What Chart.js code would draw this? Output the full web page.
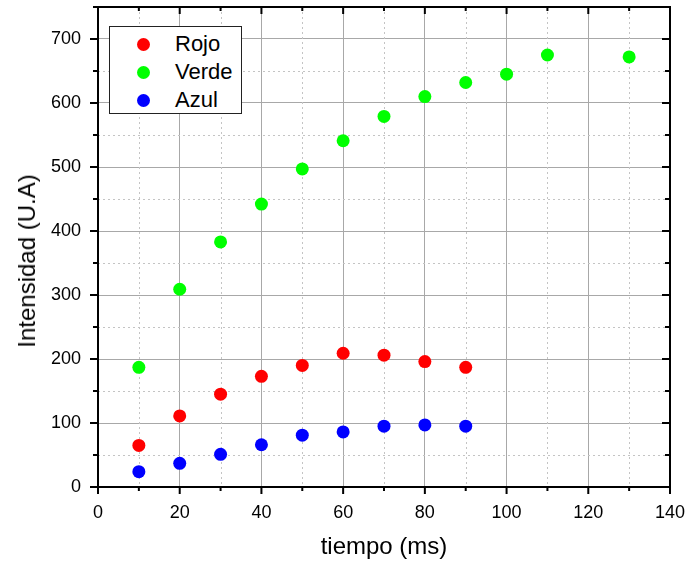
<!DOCTYPE html>
<html>
<head>
<meta charset="utf-8">
<script src="https://cdn.jsdelivr.net/npm/chart.js@4.4.1/dist/chart.umd.min.js"></script>
<style>
  html, body { margin: 0; padding: 0; background: #fff; }
  #wrap { position: relative; width: 688px; height: 562px; font-family: "Liberation Sans", Arial, sans-serif; }
  #legend { position: absolute; left: 109px; top: 26px; width: 131px; height: 86px;
            border: 1.5px solid #222; background: #fff; }
  .row { position: absolute; left: 0; height: 28px; line-height: 28px; font-size: 22px; color: #000; }
  .dot { position: absolute; left: 27px; top: 8px; width: 13px; height: 13px; border-radius: 50%; }
  .lbl { position: absolute; left: 65px; top: 0; white-space: nowrap; }
  #ytitle { position: absolute; left: 27px; top: 261px; font-size: 24px; color: #000; white-space: nowrap;
            transform: translate(-50%, -50%) rotate(-90deg); }
</style>
</head>
<body>
<div id="wrap">
  <canvas id="chart" width="688" height="562"></canvas>
  <div id="legend"></div>
  <div id="ytitle">Intensidad (U.A)</div>
</div>
<script>
// data
const tiempo = [10, 20, 30, 40, 50, 60, 70, 80, 90];
const tiempoVerde = [10, 20, 30, 40, 50, 60, 70, 80, 90, 100, 110, 130];
const rojo = [65, 111, 145, 173, 190, 209, 206, 196, 187];
const verde = [187, 309, 383, 442, 497, 541, 579, 610, 632, 645, 675, 672];
const azul = [24, 37, 51, 66, 81, 86, 95, 97, 95];
const xTicks = [0, 20, 40, 60, 80, 100, 120, 140];
const yTicks = [0, 100, 200, 300, 400, 500, 600, 700];

const series = [
    { label: 'Rojo', x: tiempo, y: rojo, color: '#ff0000' },
    { label: 'Verde', x: tiempoVerde, y: verde, color: '#00ff00' },
    { label: 'Azul', x: tiempo, y: azul, color: '#0000ff' }
];

const font = '"Liberation Sans", Arial, sans-serif';

// dotted minor grid, tick marks and frame
const framePlugin = {
    id: 'frame',
    beforeDatasetsDraw(chart) {
        const ctx = chart.ctx;
        const a = chart.chartArea;
        const xs = chart.scales.x, ys = chart.scales.y;
        ctx.save();
        ctx.strokeStyle = '#c4c4c4';
        ctx.lineWidth = 1;
        ctx.setLineDash([2, 3]);
        for (let v = 10; v < 140; v += 20) {
            const px = Math.round(xs.getPixelForValue(v)) + 0.5;
            ctx.beginPath(); ctx.moveTo(px, a.top); ctx.lineTo(px, a.bottom); ctx.stroke();
        }
        for (let v = 50; v < 750; v += 100) {
            const py = Math.round(ys.getPixelForValue(v)) + 0.5;
            ctx.beginPath(); ctx.moveTo(a.left, py); ctx.lineTo(a.right, py); ctx.stroke();
        }
        ctx.restore();
    },
    afterDatasetsDraw(chart) {
        const ctx = chart.ctx;
        const a = chart.chartArea;
        const xs = chart.scales.x, ys = chart.scales.y;
        ctx.save();
        ctx.strokeStyle = '#000';
        ctx.lineWidth = 2;
        ctx.setLineDash([]);
        ctx.strokeRect(a.left, a.top, a.right - a.left, a.bottom - a.top);
        for (let v = 0; v <= 140; v += 10) {
            const px = xs.getPixelForValue(v);
            const len = v % 20 === 0 ? 7 : 4;
            ctx.beginPath();
            ctx.moveTo(px, a.bottom); ctx.lineTo(px, a.bottom + len);
            ctx.moveTo(px, a.top); ctx.lineTo(px, a.top + len);
            ctx.stroke();
        }
        for (let v = 0; v <= 750; v += 50) {
            const py = ys.getPixelForValue(v);
            const len = v % 100 === 0 ? 8 : 5;
            ctx.beginPath();
            ctx.moveTo(a.left, py); ctx.lineTo(a.left - len, py);
            ctx.moveTo(a.right, py); ctx.lineTo(a.right - len, py);
            ctx.stroke();
        }
        ctx.restore();
    }
};

function noPad(scale) {
    scale.paddingTop = 0;
    scale.paddingBottom = 0;
    scale.paddingLeft = 0;
    scale.paddingRight = 0;
}

new Chart(document.getElementById('chart'), {
    type: 'scatter',
    data: {
        datasets: series.map(s => ({
            label: s.label,
            data: s.x.map((x, i) => ({ x: x, y: s.y[i] })),
            backgroundColor: s.color,
            borderWidth: 0,
            pointRadius: 6.5,
            pointHoverRadius: 6.5
        }))
    },
    options: {
        responsive: false,
        animation: false,
        layout: { padding: { left: 0, top: 7, right: 18, bottom: 0 } },
        plugins: { legend: { display: false }, tooltip: { enabled: false } },
        scales: {
            x: {
                type: 'linear', min: 0, max: 140,
                afterFit(scale) { scale.height = 75; noPad(scale); },
                afterBuildTicks(scale) { scale.ticks = xTicks.map(v => ({ value: v })); },
                ticks: { color: '#000', padding: 15, font: { family: font, size: 18 } },
                grid: { color: '#a8a8a8', lineWidth: 1, drawTicks: false },
                border: { display: false },
                title: { display: true, text: 'tiempo (ms)', color: '#000', padding: { top: 0, bottom: 0 },
                         font: { family: font, size: 24 } }
            },
            y: {
                type: 'linear', min: 0, max: 750,
                afterFit(scale) { scale.width = 98; noPad(scale); },
                afterBuildTicks(scale) { scale.ticks = yTicks.map(v => ({ value: v })); },
                ticks: { color: '#000', padding: 17, font: { family: font, size: 18 } },
                grid: { color: '#a8a8a8', lineWidth: 1, drawTicks: false },
                border: { display: false },
                title: { display: false }
            }
        }
    },
    plugins: [framePlugin]
});

// legend as real text
const legend = document.getElementById('legend');
series.forEach((s, i) => {
    const row = document.createElement('div');
    row.className = 'row';
    row.style.top = (3 + i * 28) + 'px';
    row.style.width = '100%';
    const dot = document.createElement('span');
    dot.className = 'dot';
    dot.style.background = s.color;
    const lbl = document.createElement('span');
    lbl.className = 'lbl';
    lbl.textContent = s.label;
    row.appendChild(dot);
    row.appendChild(lbl);
    legend.appendChild(row);
});
</script>
</body>
</html>
